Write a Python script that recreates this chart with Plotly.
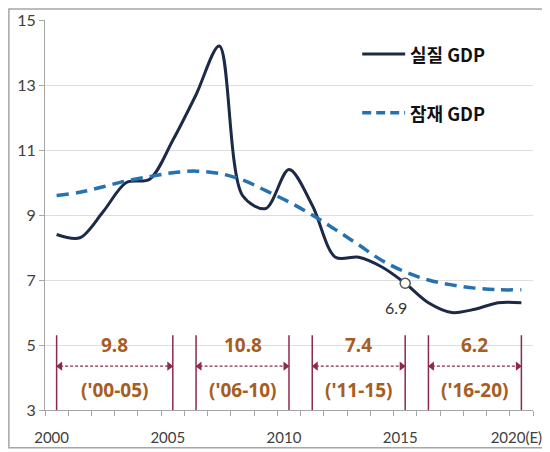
import plotly.graph_objects as go

# 연도별 성장률 (%)
years = list(range(2000, 2021))
real_gdp = [8.4, 8.3, 9.1, 10.0, 10.1, 11.3, 12.7, 14.2, 9.6, 9.2, 10.4,
            9.3, 7.7, 7.7, 7.4, 6.9, 6.3, 6.0, 6.1, 6.3, 6.3]
potential_gdp = [9.6, 9.7, 9.87, 10.05, 10.18, 10.3, 10.35, 10.28, 10.08, 9.75, 9.4,
                 9.0, 8.55, 8.08, 7.6, 7.25, 7.0, 6.85, 6.75, 6.7, 6.7]
series_names = ["실질 GDP", "잠재 GDP"]

# 기간별 평균
period_start = [2000, 2006, 2011, 2016]
period_end = [2005, 2010, 2015, 2020]
period_avg = [9.8, 10.8, 7.4, 6.2]
period_label = ["('00-05)", "('06-10)", "('11-15)", "('16-20)"]

tick_years = [2000, 2005, 2010, 2015, 2020]
tick_text = ["2000", "2005", "2010", "2015", "2020(E)"]

mark_year = 2015

navy = "#1c2a48"
blue = "#2672b0"
maroon = "#8b2a4a"
brown = "#a65d24"
grid = "#dedede"
axis_grey = "#a6a6a6"
real_dash = "12px,7px"

fig = go.Figure()

fig.add_trace(go.Scatter(
    x=years, y=real_gdp, name=series_names[0], mode="lines", showlegend=False,
    line=dict(color=navy, width=3, shape="spline", smoothing=0.9),
))
fig.add_trace(go.Scatter(
    x=years, y=potential_gdp, name=series_names[1], mode="lines", showlegend=False,
    line=dict(color=blue, width=3.5, shape="spline", dash=real_dash),
))

# 2015 표시점
mi = years.index(mark_year)
fig.add_trace(go.Scatter(
    x=[mark_year], y=[real_gdp[mi]], mode="markers", showlegend=False,
    marker=dict(size=10, color="white", line=dict(color="#555555", width=1.5)),
))
fig.add_annotation(x=mark_year, y=real_gdp[mi], text=f"{real_gdp[mi]:.1f}",
                   showarrow=False, yshift=-24, xshift=-9,
                   font=dict(family="Lato", size=16, color="#333333"))

# 기간 구간 표시
for s, e, avg, lab in zip(period_start, period_end, period_avg, period_label):
    for xv in (s, e):
        fig.add_shape(type="line", x0=xv, x1=xv, y0=3, y1=5.3,
                      line=dict(color=maroon, width=1.5))
    fig.add_trace(go.Scatter(
        x=[s + 0.15, e - 0.15], y=[4.35, 4.35], mode="lines+markers",
        showlegend=False, hoverinfo="skip",
        line=dict(color=maroon, width=1.2, dash="3px,2px"),
        marker=dict(symbol=["triangle-left", "triangle-right"], size=8, color=maroon),
    ))
    fig.add_annotation(x=(s + e) / 2, y=5.0, text=f"<b>{avg}</b>", showarrow=False,
                       font=dict(family="Noto Sans", size=19, color=brown))
    fig.add_annotation(x=(s + e) / 2, y=3.62, text=f"<b>{lab}</b>", showarrow=False,
                       font=dict(family="Noto Sans", size=19, color=brown))

# 범례 (직접 그림)
legend_rows = [(0.913, navy, 3, "solid"), (0.762, blue, 3.5, "9px,5px")]
for (ly, col, w, d), nm in zip(legend_rows, series_names):
    fig.add_shape(type="line", xref="paper", yref="paper", x0=0.650, x1=0.738,
                  y0=ly, y1=ly, line=dict(color=col, width=w, dash=d))
    fig.add_annotation(xref="paper", yref="paper", x=0.744, y=ly,
                       xanchor="left", yanchor="middle",
                       text=f"<b>{nm}</b>", showarrow=False,
                       font=dict(family="Noto Sans CJK KR", size=18, color="#111111"))

# 바깥 테두리
fig.add_shape(type="rect", xref="paper", yref="paper",
              x0=-0.074, x1=1.031, y0=-0.097, y1=1.028,
              line=dict(color=axis_grey, width=1.5))

fig.update_xaxes(
    range=[1999.5, 2020.5], tickmode="array", tickvals=tick_years, ticktext=tick_text,
    ticks="", showgrid=False, showline=True, linecolor=axis_grey, linewidth=1,
    ticklabelstandoff=14, ticklabelshift=-5, automargin=False,
    minor=dict(ticks="outside", tick0=1999.5, dtick=1, ticklen=5, tickcolor=axis_grey,
               showgrid=False),
    tickfont=dict(family="Lato", size=15, color="#404040"),
)
fig.update_yaxes(
    range=[3, 15], tick0=3, dtick=2, ticks="outside", ticklen=5, tickcolor=axis_grey,
    showgrid=True, gridcolor=grid, showline=True, linecolor=axis_grey, linewidth=1,
    zeroline=False, automargin=False,
    tickfont=dict(family="Lato", size=16, color="#404040"),
)

fig.update_layout(
    width=542, height=444,
    margin=dict(l=37, r=17, t=12, b=42),
    plot_bgcolor="white", paper_bgcolor="white",
    showlegend=False,
)

fig.write_html("out.html")
